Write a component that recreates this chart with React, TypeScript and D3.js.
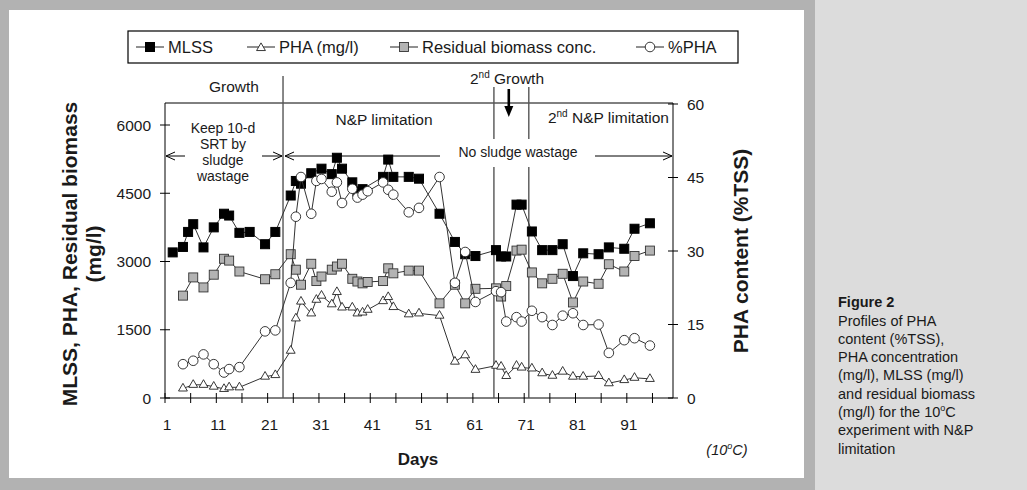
import { line, scaleLinear, symbol, symbolTriangle } from 'd3'

// MLSS is sampled on a slightly different schedule from the other three series
const mlssDays = [
  2.5, 4.5, 5.5, 6.5, 8.5, 10.5, 12.5, 13.5, 15.5, 17.5, 20.5, 22.5, 25.5, 26.5, 27.5, 29.5,
  31.5, 33.5, 34.5, 35.5, 37.5, 38.5, 39.5, 43.5, 44.5, 45.5, 48.5, 50.5, 54.5, 57.5, 59.5,
  61.5, 65.5, 66.5, 67.5, 69.5, 70.5, 72.5, 74.5, 76.5, 78.5, 80.5, 82.5, 85.5, 87.5, 90.5,
  92.5, 95.5,
]
const mlssValues = [
  3200, 3320, 3650, 3820, 3310, 3750, 4050, 4010, 3630, 3650, 3380, 3650, 4450, 4770, 4710,
  4940, 5040, 4920, 5280, 5040, 4740, 4540, 4590, 4860, 5240, 4860, 4860, 4820, 4050, 3430,
  3160, 3120, 3250, 3110, 3110, 4250, 4250, 3660, 3250, 3250, 3380, 2680, 3180, 3160, 3310,
  3280, 3720, 3840,
]

const sampleDays = [
  4.5, 6.5, 8.5, 10.5, 12.5, 13.5, 15.5, 20.5, 22.5, 25.5, 26.5, 27.5, 29.5, 30.5, 31.5, 33.5,
  34.5, 35.5, 37.5, 38.5, 39.5, 40.5, 43.5, 44.5, 45.5, 48.5, 50.5, 54.5, 57.5, 59.5, 61.5,
  65.5, 66.5, 67.5, 69.5, 70.5, 72.5, 74.5, 76.5, 78.5, 80.5, 82.5, 85.5, 87.5, 90.5, 92.5,
  95.5,
]
const residualValues = [
  2250, 2650, 2430, 2710, 3060, 3020, 2780, 2610, 2720, 3160, 2820, 2490, 2950, 2570, 2670,
  2820, 2890, 2950, 2620, 2560, 2520, 2550, 2570, 2850, 2740, 2800, 2800, 2080, 2490, 2080,
  2400, 2410, 2230, 2460, 3240, 3260, 2760, 2520, 2620, 2730, 2100, 2560, 2510, 2940, 2780,
  3120, 3240,
]
const phaValues = [
  210, 290, 290, 250, 200, 235, 235, 470, 505, 1040, 1750, 2120, 1860, 2160, 2250, 2060, 2330,
  1990, 1990, 1860, 1880, 1940, 2130, 2220, 2000, 1840, 1860, 1810, 800, 940, 620, 710, 690,
  485, 710, 670, 650, 545, 490, 580, 470, 470, 485, 325, 395, 445, 420,
]
const phaPercentValues = [
  6.9, 7.6, 8.9, 6.9, 5.2, 5.9, 6.3, 13.6, 13.8, 23.5, 37.0, 45.1, 37.6, 44.3, 44.7, 42.1, 44.0,
  39.8, 42.7, 40.9, 41.5, 42.2, 44.0, 42.5, 41.5, 37.9, 38.8, 45.1, 23.5, 29.8, 19.6, 21.8, 21.6,
  15.6, 16.5, 15.6, 17.8, 16.5, 14.9, 16.8, 17.3, 14.9, 15.0, 9.2, 11.8, 12.2, 10.7,
]

const leftTicks = [0, 1500, 3000, 4500, 6000]
const rightTicks = [0, 15, 30, 45, 60]
const dayLabels = [1, 11, 21, 31, 41, 51, 61, 71, 81, 91]
const dayTicks = [1, 6, 11, 16, 21, 26, 31, 36, 41, 46, 51, 56, 61, 66, 71, 76, 81, 86, 91, 96]

// phase boundaries (day) and the day the 2nd growth arrow points at
const growthEnd = 24
const secondGrowthStart = 65.1
const secondGrowthEnd = 71.9
const secondGrowthMark = 68

const captionLines = [
  'Profiles of PHA',
  'content (%TSS),',
  'PHA concentration',
  '(mg/l), MLSS (mg/l)',
  'and residual biomass',
]

const font = '"Liberation Sans", Arial, sans-serif'
const ink = '#1a1a1a'

const plot = { left: 165, right: 673, top: 103, bottom: 398 }

const xScale = scaleLinear().domain([1, 100]).range([plot.left, plot.right])
const yLeft = scaleLinear().domain([0, 6000]).range([plot.bottom, 125])
const yRight = scaleLinear().domain([0, 60]).range([plot.bottom, 104])

const trianglePath = symbol().type(symbolTriangle).size(34)() ?? ''

type Pt = [number, number]

function pairs(days: number[], values: number[], y: (v: number) => number): Pt[] {
  return days.map((d, i) => [xScale(d), y(values[i])])
}

const pathOf = line<Pt>()
  .x((p) => p[0])
  .y((p) => p[1])

function Marker({ kind, x, y }: { kind: string; x: number; y: number }) {
  if (kind === 'mlss') {
    return <rect x={x - 4.5} y={y - 4.5} width={9} height={9} fill="#000" stroke="#000" />
  }
  if (kind === 'residual') {
    return <rect x={x - 4.5} y={y - 4.5} width={9} height={9} fill="#b3b3b3" stroke="#333" strokeWidth={0.9} />
  }
  if (kind === 'pha') {
    return <path d={trianglePath} transform={`translate(${x},${y})`} fill="#fff" stroke="#222" strokeWidth={0.9} />
  }
  return <circle cx={x} cy={y} r={4.8} fill="#fff" stroke="#222" strokeWidth={0.9} />
}

function Series({ kind, points }: { kind: string; points: Pt[] }) {
  return (
    <g>
      <path d={pathOf(points) ?? ''} fill="none" stroke="#333" strokeWidth={1} />
      {points.map((p, i) => (
        <Marker key={i} kind={kind} x={p[0]} y={p[1]} />
      ))}
    </g>
  )
}

const legendItems = [
  { kind: 'mlss', label: 'MLSS', x: 136 },
  { kind: 'pha', label: 'PHA (mg/l)', x: 247 },
  { kind: 'residual', label: 'Residual biomass conc.', x: 390 },
  { kind: 'percent', label: '%PHA', x: 636 },
]

function App() {
  const mlss = pairs(mlssDays, mlssValues, yLeft)
  const residual = pairs(sampleDays, residualValues, yLeft)
  const pha = pairs(sampleDays, phaValues, yLeft)
  const phaPercent = pairs(sampleDays, phaPercentValues, yRight)

  const arrowY = 156
  const xGrowth = xScale(growthEnd)
  const x2a = xScale(secondGrowthStart)
  const x2b = xScale(secondGrowthEnd)
  const xMark = xScale(secondGrowthMark)

  return (
    <svg
      width={1027}
      height={490}
      style={{ position: 'absolute', left: 0, top: 0 }}
      fontFamily={font}
    >
      <rect width={1027} height={490} fill="#b2b2b2" />
      <rect x={815} y={0} width={212} height={490} fill="#dcdcdc" />
      <rect x={9} y={10} width={795} height={468} fill="#fff" />

      {/* legend */}
      <rect x={128} y={31} width={610} height={32} fill="#fff" stroke="#000" strokeWidth={1.2} />
      {legendItems.map((item) => (
        <g key={item.label}>
          <line x1={item.x} x2={item.x + 28} y1={47} y2={47} stroke="#222" />
          <Marker kind={item.kind} x={item.x + 14} y={item.kind === 'pha' ? 48 : 47} />
          <text x={item.x + 32} y={53} fontSize={16.5} fill={ink}>
            {item.label}
          </text>
        </g>
      ))}

      {/* frame */}
      <line x1={plot.left} x2={plot.right} y1={plot.top} y2={plot.top} stroke="#000" />
      <line x1={plot.left} x2={plot.left} y1={plot.top} y2={plot.bottom} stroke="#000" />
      <line x1={plot.right} x2={plot.right} y1={plot.top} y2={plot.bottom} stroke="#000" />
      <line x1={plot.left} x2={plot.right} y1={plot.bottom} y2={plot.bottom} stroke="#000" />

      {leftTicks.map((t) => (
        <g key={`l${t}`}>
          <line x1={plot.left - 5} x2={plot.left + 5} y1={yLeft(t)} y2={yLeft(t)} stroke="#000" />
          <text x={151} y={yLeft(t)} dy="0.36em" textAnchor="end" fontSize={15.5} fill={ink}>
            {t}
          </text>
        </g>
      ))}
      {rightTicks.map((t) => (
        <g key={`r${t}`}>
          <line x1={plot.right - 5} x2={plot.right + 5} y1={yRight(t)} y2={yRight(t)} stroke="#000" />
          <text x={687} y={yRight(t)} dy="0.36em" fontSize={15.5} fill={ink}>
            {t}
          </text>
        </g>
      ))}
      {dayTicks.map((d) => (
        <line key={`d${d}`} x1={xScale(d)} x2={xScale(d)} y1={plot.bottom - 5} y2={plot.bottom + 5} stroke="#000" />
      ))}
      {dayLabels.map((d) => (
        <text key={`dl${d}`} x={xScale(d) + 2} y={430} textAnchor="middle" fontSize={15.5} fill={ink}>
          {d}
        </text>
      ))}

      {/* axis titles */}
      <text
        transform="translate(77,254) rotate(-90)"
        textAnchor="middle"
        fontSize={21}
        fontWeight="bold"
        fill={ink}
      >
        MLSS, PHA, Residual biomass
      </text>
      <text
        transform="translate(101,254) rotate(-90)"
        textAnchor="middle"
        fontSize={21}
        fontWeight="bold"
        fill={ink}
      >
        (mg/l)
      </text>
      <text
        transform="translate(748,251) rotate(-90)"
        textAnchor="middle"
        fontSize={21}
        fontWeight="bold"
        fill={ink}
      >
        PHA content (%TSS)
      </text>
      <text x={418} y={465} textAnchor="middle" fontSize={17} fontWeight="bold" fill={ink}>
        Days
      </text>
      <text x={727} y={455} textAnchor="middle" fontSize={14.5} fontStyle="italic" fill={ink}>
        (10<tspan fontSize={9} dy={-6}>o</tspan>
        <tspan dy={6}>C)</tspan>
      </text>

      {/* phase boundaries */}
      <line x1={xGrowth} x2={xGrowth} y1={76} y2={plot.bottom} stroke="#555" strokeWidth={1.4} />
      {[x2a, x2b].map((x) => (
        <g key={x}>
          <line x1={x} x2={x} y1={87} y2={139} stroke="#555" strokeWidth={1.4} />
          <line x1={x} x2={x} y1={167} y2={plot.bottom} stroke="#555" strokeWidth={1.4} />
        </g>
      ))}

      <text x={234} y={92} textAnchor="middle" fontSize={15.5} fill={ink}>
        Growth
      </text>
      <text x={507} y={84} textAnchor="middle" fontSize={15.5} fill={ink}>
        2<tspan fontSize={10} dy={-6}>nd</tspan>
        <tspan dy={6}> Growth</tspan>
      </text>
      <line x1={xMark} x2={xMark} y1={89} y2={108} stroke="#000" strokeWidth={2.6} />
      <path d={`M${xMark - 4.5},106 L${xMark + 4.5},106 L${xMark},117 Z`} fill="#000" />

      <text x={384} y={125} textAnchor="middle" fontSize={15.5} fill={ink}>
        N&amp;P limitation
      </text>
      <text x={669} y={123} textAnchor="end" fontSize={15.5} fill={ink}>
        2<tspan fontSize={10} dy={-6}>nd</tspan>
        <tspan dy={6}> N&amp;P limitation</tspan>
      </text>

      {['Keep 10-d', 'SRT by', 'sludge', 'wastage'].map((s, i) => (
        <text key={s} x={223} y={133 + i * 16} textAnchor="middle" fontSize={14} fill={ink}>
          {s}
        </text>
      ))}
      <text x={518} y={157} textAnchor="middle" fontSize={14} fill={ink}>
        No sludge wastage
      </text>

      {/* span arrows */}
      <g stroke="#000" fill="none" strokeWidth={1}>
        <line x1={plot.left + 1} x2={185} y1={arrowY} y2={arrowY} />
        <path d={`M${plot.left + 10},${arrowY - 4} L${plot.left + 1},${arrowY} L${plot.left + 10},${arrowY + 4}`} />
        <line x1={262} x2={xGrowth - 1} y1={arrowY} y2={arrowY} />
        <path d={`M${xGrowth - 10},${arrowY - 4} L${xGrowth - 1},${arrowY} L${xGrowth - 10},${arrowY + 4}`} />
        <line x1={xGrowth + 2} x2={440} y1={arrowY} y2={arrowY} />
        <path d={`M${xGrowth + 11},${arrowY - 4} L${xGrowth + 2},${arrowY} L${xGrowth + 11},${arrowY + 4}`} />
        <line x1={595} x2={plot.right - 1} y1={arrowY} y2={arrowY} />
        <path d={`M${plot.right - 10},${arrowY - 4} L${plot.right - 1},${arrowY} L${plot.right - 10},${arrowY + 4}`} />
      </g>

      {/* data */}
      <Series kind="residual" points={residual} />
      <Series kind="pha" points={pha} />
      <Series kind="mlss" points={mlss} />
      <Series kind="percent" points={phaPercent} />

      {/* caption */}
      <text x={838} y={307} fontSize={14.5} fontWeight="bold" fill={ink}>
        Figure 2
      </text>
      {captionLines.map((s, i) => (
        <text key={s} x={838} y={325.5 + i * 18.3} fontSize={14.5} fill={ink}>
          {s}
        </text>
      ))}
      <text x={838} y={325.5 + 5 * 18.3} fontSize={14.5} fill={ink}>
        (mg/l) for the 10<tspan fontSize={9} dy={-6}>o</tspan>
        <tspan dy={6}>C</tspan>
      </text>
      <text x={838} y={325.5 + 6 * 18.3} fontSize={14.5} fill={ink}>
        experiment with N&amp;P
      </text>
      <text x={838} y={325.5 + 7 * 18.3} fontSize={14.5} fill={ink}>
        limitation
      </text>
    </svg>
  )
}

export default App
